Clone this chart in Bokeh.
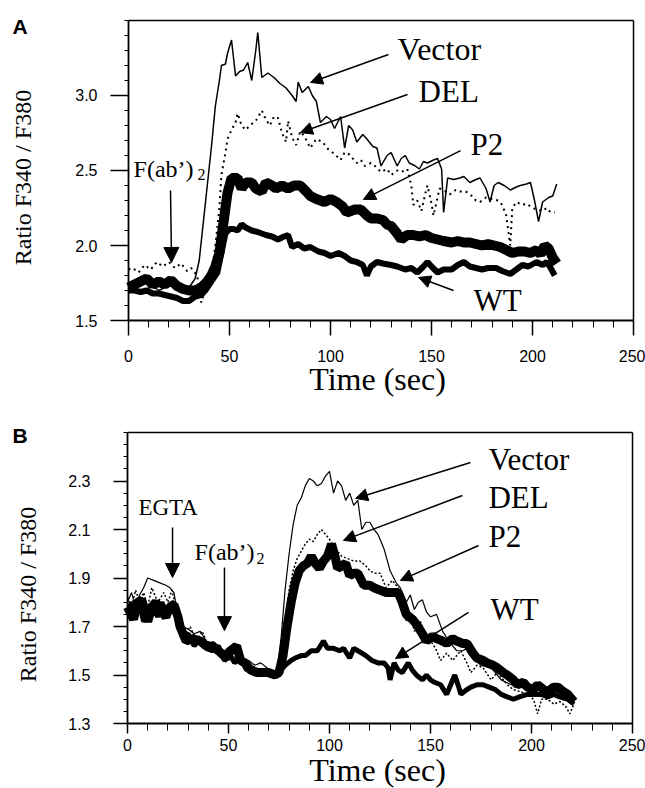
import math
from bokeh.plotting import figure
from bokeh.layouts import column
from bokeh.models import (Range1d, FixedTicker, NumeralTickFormatter, Label, Arrow, NormalHead, LinearAxis)
from bokeh.embed import file_html
from bokeh.resources import INLINE

# ---------------- Panel A data ----------------
A_VECTOR_T = [0, 3, 6, 9, 12, 15, 18, 21, 24, 27, 30, 33, 35, 37, 39, 41, 43, 45, 46, 48, 49, 51, 53, 55, 57, 59, 61, 63, 64, 66, 69, 72, 75, 78, 81, 83, 84, 86, 89, 91, 93, 95, 98, 100, 102, 105, 107, 109, 111, 113, 116, 118, 121, 123, 125, 128, 130, 133, 135, 137, 139, 142, 144, 146, 148, 151, 153, 155, 156, 158, 161, 164, 166, 169, 172, 174, 177, 179, 181, 183, 186, 189, 192, 194, 197, 199, 201, 203, 205, 208, 210, 212]
A_VECTOR_V = [1.70, 1.72, 1.68, 1.71, 1.73, 1.70, 1.72, 1.74, 1.71, 1.70, 1.72, 1.78, 1.90, 2.15, 2.40, 2.65, 2.93, 3.10, 3.20, 3.21, 3.28, 3.37, 3.13, 3.16, 3.17, 3.22, 3.10, 3.30, 3.42, 3.12, 3.15, 3.12, 3.08, 3.05, 3.00, 2.96, 3.09, 3.02, 3.06, 3.00, 2.96, 2.82, 2.86, 2.84, 2.78, 2.86, 2.65, 2.80, 2.77, 2.69, 2.74, 2.71, 2.66, 2.65, 2.53, 2.60, 2.62, 2.53, 2.58, 2.60, 2.55, 2.53, 2.51, 2.56, 2.55, 2.57, 2.58, 2.51, 2.22, 2.45, 2.44, 2.45, 2.46, 2.42, 2.44, 2.45, 2.38, 2.29, 2.40, 2.42, 2.40, 2.37, 2.39, 2.40, 2.41, 2.42, 2.30, 2.16, 2.29, 2.32, 2.33, 2.41]

A_DEL_T = [0, 2, 5, 8, 11, 14, 17, 20, 23, 26, 29, 31, 34, 36, 38, 40, 42, 43, 45, 46, 48, 49, 51, 53, 54, 56, 58, 60, 63, 66, 68, 70, 72, 74, 76, 78, 79, 81, 83, 85, 87, 90, 93, 96, 99, 102, 105, 107, 109, 111, 113, 115, 117, 120, 122, 125, 128, 130, 133, 135, 138, 140, 141, 143, 145, 147, 148, 150, 151, 153, 154, 157, 159, 162, 164, 167, 170, 172, 174, 177, 180, 183, 185, 187, 189, 190, 192, 195, 197, 200, 202, 205, 207, 209, 211]
A_DEL_V = [1.84, 1.85, 1.82, 1.87, 1.84, 1.89, 1.86, 1.89, 1.85, 1.88, 1.83, 1.85, 1.80, 1.62, 1.70, 1.79, 1.90, 2.00, 2.25, 2.47, 2.62, 2.71, 2.77, 2.82, 2.88, 2.80, 2.77, 2.80, 2.83, 2.90, 2.84, 2.80, 2.86, 2.85, 2.75, 2.69, 2.83, 2.72, 2.67, 2.76, 2.73, 2.65, 2.71, 2.69, 2.64, 2.61, 2.57, 2.62, 2.61, 2.58, 2.55, 2.57, 2.53, 2.55, 2.53, 2.49, 2.51, 2.47, 2.50, 2.49, 2.51, 2.40, 2.27, 2.30, 2.23, 2.35, 2.40, 2.28, 2.20, 2.32, 2.38, 2.36, 2.34, 2.37, 2.36, 2.36, 2.33, 2.30, 2.29, 2.32, 2.31, 2.30, 2.27, 2.20, 2.00, 2.25, 2.29, 2.27, 2.28, 2.25, 2.24, 2.23, 2.25, 2.22, 2.22]

A_P2_T = [0, 3, 6, 9, 12, 15, 18, 21, 24, 27, 30, 33, 36, 39, 41, 43, 45, 47, 49, 51, 54, 56, 58, 61, 63, 66, 68, 71, 73, 76, 79, 82, 85, 88, 90, 93, 97, 100, 103, 106, 108, 112, 115, 118, 120, 123, 126, 128, 130, 133, 135, 138, 141, 144, 147, 150, 153, 156, 160, 163, 166, 169, 172, 175, 178, 181, 184, 187, 190, 193, 196, 199, 202, 204, 206, 208, 210, 212]
A_P2_V = [1.72, 1.74, 1.76, 1.78, 1.74, 1.76, 1.74, 1.77, 1.73, 1.71, 1.70, 1.70, 1.72, 1.76, 1.80, 1.86, 1.95, 2.15, 2.35, 2.45, 2.45, 2.38, 2.42, 2.42, 2.38, 2.36, 2.42, 2.40, 2.38, 2.40, 2.38, 2.40, 2.40, 2.36, 2.33, 2.31, 2.29, 2.31, 2.29, 2.26, 2.22, 2.24, 2.24, 2.20, 2.18, 2.18, 2.17, 2.14, 2.13, 2.08, 2.04, 2.07, 2.07, 2.06, 2.07, 2.05, 2.04, 2.03, 2.02, 2.03, 2.02, 2.02, 2.01, 2.00, 2.01, 2.00, 1.99, 1.97, 1.95, 1.96, 1.96, 1.95, 1.97, 1.94, 2.00, 1.98, 1.92, 1.88]

A_WT_T = [0, 3, 6, 9, 12, 15, 18, 21, 24, 27, 30, 33, 36, 38, 40, 42, 44, 46, 48, 50, 52, 54, 56, 58, 61, 64, 66, 68, 71, 74, 77, 79, 81, 84, 87, 90, 94, 97, 100, 104, 107, 110, 113, 116, 118, 120, 123, 126, 130, 133, 137, 140, 143, 146, 148, 150, 153, 156, 160, 163, 166, 169, 172, 175, 178, 182, 185, 189, 192, 195, 198, 202, 205, 207, 209, 211]
A_WT_V = [1.70, 1.70, 1.69, 1.70, 1.68, 1.68, 1.67, 1.66, 1.65, 1.63, 1.63, 1.66, 1.67, 1.70, 1.74, 1.78, 1.82, 1.95, 2.08, 2.11, 2.11, 2.10, 2.14, 2.12, 2.10, 2.09, 2.08, 2.07, 2.06, 2.04, 2.06, 2.07, 1.99, 2.01, 1.98, 1.99, 1.96, 1.95, 1.93, 1.95, 1.93, 1.90, 1.89, 1.87, 1.80, 1.86, 1.89, 1.88, 1.87, 1.86, 1.84, 1.85, 1.82, 1.86, 1.89, 1.86, 1.82, 1.84, 1.84, 1.87, 1.89, 1.86, 1.85, 1.84, 1.85, 1.85, 1.83, 1.81, 1.84, 1.87, 1.86, 1.89, 1.87, 1.89, 1.85, 1.80]

# ---------------- Panel B data ----------------
B_VECTOR_T = [0, 2, 4, 6, 8, 10, 13, 16, 19, 21, 23, 25, 27, 30, 33, 36, 39, 42, 45, 48, 51, 54, 57, 60, 63, 66, 69, 72, 74, 76, 78, 80, 82, 84, 86, 88, 90, 92, 94, 96, 98, 100, 102, 104, 106, 108, 110, 112, 114, 116, 118, 120, 122, 124, 127, 130, 133, 135, 138, 140, 142, 144, 146, 148, 150, 153, 156, 160, 163, 166, 168, 171, 175, 180, 185, 190, 195, 200, 205, 208, 212, 216, 221]
B_VECTOR_V = [1.80, 1.84, 1.78, 1.83, 1.86, 1.90, 1.89, 1.88, 1.87, 1.86, 1.84, 1.74, 1.70, 1.69, 1.67, 1.68, 1.64, 1.63, 1.61, 1.60, 1.62, 1.59, 1.57, 1.56, 1.54, 1.55, 1.53, 1.51, 1.52, 1.65, 1.85, 2.00, 2.12, 2.20, 2.23, 2.28, 2.31, 2.30, 2.28, 2.29, 2.32, 2.34, 2.25, 2.30, 2.28, 2.22, 2.25, 2.20, 2.22, 2.10, 2.13, 2.13, 2.10, 2.08, 2.02, 1.93, 1.88, 1.86, 1.80, 1.83, 1.77, 1.80, 1.81, 1.76, 1.74, 1.75, 1.68, 1.63, 1.60, 1.60, 1.61, 1.57, 1.54, 1.53, 1.48, 1.46, 1.45, 1.43, 1.44, 1.45, 1.43, 1.42, 1.40]

B_DEL_T = [0, 2, 4, 6, 8, 10, 12, 15, 18, 20, 22, 24, 26, 28, 31, 34, 37, 40, 43, 46, 49, 52, 55, 58, 61, 64, 67, 70, 73, 76, 78, 80, 82, 84, 86, 88, 90, 92, 94, 96, 98, 100, 102, 104, 106, 109, 112, 115, 118, 120, 122, 125, 128, 131, 134, 136, 138, 140, 142, 145, 148, 151, 153, 155, 158, 161, 165, 168, 170, 173, 176, 180, 183, 185, 188, 191, 195, 198, 201, 203, 205, 208, 211, 214, 217, 219, 221]
B_DEL_V = [1.82, 1.78, 1.85, 1.80, 1.84, 1.78, 1.86, 1.80, 1.84, 1.80, 1.85, 1.78, 1.70, 1.66, 1.70, 1.64, 1.68, 1.62, 1.64, 1.58, 1.60, 1.58, 1.56, 1.55, 1.52, 1.53, 1.50, 1.49, 1.50, 1.58, 1.72, 1.85, 1.93, 1.98, 2.01, 2.04, 2.06, 2.05, 2.08, 2.10, 2.08, 2.06, 2.03, 2.01, 1.99, 1.98, 1.97, 1.97, 1.95, 1.93, 1.92, 1.92, 1.86, 1.89, 1.86, 1.80, 1.72, 1.75, 1.68, 1.72, 1.66, 1.63, 1.60, 1.56, 1.59, 1.56, 1.60, 1.55, 1.51, 1.54, 1.53, 1.48, 1.51, 1.49, 1.46, 1.44, 1.43, 1.42, 1.40, 1.34, 1.40, 1.40, 1.38, 1.39, 1.37, 1.34, 1.38]

B_P2_T = [0, 3, 5, 7, 10, 12, 14, 17, 19, 21, 23, 25, 26, 29, 32, 36, 39, 42, 45, 49, 51, 54, 56, 58, 61, 64, 67, 70, 73, 75, 77, 79, 81, 83, 85, 87, 89, 91, 93, 95, 97, 99, 101, 103, 104, 106, 108, 110, 112, 114, 117, 120, 122, 125, 128, 131, 134, 136, 138, 141, 143, 146, 148, 151, 153, 156, 158, 161, 163, 166, 168, 171, 173, 176, 178, 181, 183, 186, 188, 191, 193, 196, 198, 201, 203, 206, 208, 211, 213, 216, 218, 221]
B_P2_V = [1.78, 1.73, 1.80, 1.81, 1.72, 1.78, 1.80, 1.76, 1.74, 1.78, 1.79, 1.74, 1.70, 1.64, 1.65, 1.64, 1.62, 1.62, 1.60, 1.57, 1.60, 1.62, 1.56, 1.55, 1.52, 1.51, 1.51, 1.51, 1.50, 1.51, 1.58, 1.70, 1.80, 1.88, 1.93, 1.95, 1.96, 1.99, 1.96, 1.94, 1.97, 1.99, 2.04, 1.98, 1.94, 1.95, 1.96, 1.91, 1.92, 1.92, 1.87, 1.87, 1.86, 1.85, 1.84, 1.84, 1.84, 1.80, 1.75, 1.73, 1.71, 1.67, 1.64, 1.66, 1.65, 1.64, 1.63, 1.65, 1.64, 1.63, 1.63, 1.59, 1.57, 1.56, 1.55, 1.54, 1.53, 1.51, 1.50, 1.48, 1.46, 1.47, 1.45, 1.44, 1.46, 1.44, 1.43, 1.45, 1.45, 1.43, 1.42, 1.39]

B_WT_T = [0, 2, 4, 6, 8, 10, 12, 15, 17, 19, 21, 23, 25, 27, 30, 33, 36, 39, 42, 45, 48, 51, 53, 56, 59, 62, 65, 68, 71, 74, 76, 78, 81, 83, 86, 88, 91, 94, 97, 99, 102, 105, 107, 110, 112, 114, 116, 118, 121, 124, 127, 129, 130, 132, 134, 136, 139, 141, 143, 146, 148, 150, 152, 155, 158, 160, 162, 164, 165, 168, 170, 173, 176, 179, 182, 185, 188, 191, 194, 198, 201, 205, 208, 211, 214, 218, 221]
B_WT_V = [1.76, 1.80, 1.74, 1.79, 1.72, 1.76, 1.78, 1.74, 1.80, 1.76, 1.79, 1.80, 1.72, 1.66, 1.67, 1.62, 1.65, 1.61, 1.60, 1.62, 1.56, 1.58, 1.55, 1.57, 1.52, 1.53, 1.50, 1.51, 1.50, 1.50, 1.52, 1.54, 1.56, 1.57, 1.58, 1.58, 1.60, 1.60, 1.64, 1.61, 1.61, 1.60, 1.61, 1.57, 1.61, 1.60, 1.59, 1.58, 1.56, 1.55, 1.55, 1.53, 1.48, 1.55, 1.52, 1.51, 1.55, 1.52, 1.50, 1.48, 1.50, 1.48, 1.47, 1.46, 1.42, 1.46, 1.50, 1.45, 1.42, 1.44, 1.45, 1.46, 1.46, 1.45, 1.44, 1.42, 1.41, 1.40, 1.41, 1.42, 1.42, 1.42, 1.41, 1.42, 1.41, 1.40, 1.38]

X_TICKS = [0, 50, 100, 150, 200, 250]
A_Y_TICKS = [1.5, 2.0, 2.5, 3.0]
B_Y_TICKS = [1.3, 1.5, 1.7, 1.9, 2.1, 2.3]

SERIF = "Liberation Serif"
SANS = "Liberation Sans"


def make_fig(height, xr, yr, ylo, yhi, yticks, yminor_step, ytick_out, xtick_out, ylab_standoff, xlab_standoff):
    p = figure(width=645, height=height, output_backend="svg", toolbar_location=None,
               x_range=Range1d(*xr), y_range=Range1d(*yr), min_border=0,
               background_fill_color="white", border_fill_color="white")
    p.xgrid.visible = False
    p.ygrid.visible = False
    p.outline_line_color = None
    n = int(round((yhi - ylo) / yminor_step))
    xa = p.xaxis[0]
    ya = p.yaxis[0]
    xa.ticker = FixedTicker(ticks=X_TICKS, minor_ticks=list(range(0, 251, 10)))
    ya.ticker = FixedTicker(ticks=yticks, minor_ticks=[round(ylo + i * yminor_step, 3) for i in range(n + 1)])
    ya.formatter = NumeralTickFormatter(format="0.0")
    xa.fixed_location = ylo
    ya.fixed_location = 0
    xa.bounds = (0, 250)
    ya.bounds = (ylo, yhi)
    for ax in (xa, ya):
        ax.axis_line_color = "black"
        ax.axis_line_width = 1.8
        ax.major_tick_line_color = "black"
        ax.minor_tick_line_color = "black"
        ax.major_tick_line_width = 1.5
        ax.minor_tick_line_width = 1.0
        ax.major_tick_in = 0
        ax.minor_tick_in = 0
        ax.major_label_text_font = SANS
        ax.major_label_text_font_size = "16px"
        ax.major_label_text_color = "black"
    ya.major_tick_out = ytick_out
    ya.minor_tick_out = 4
    ya.major_label_standoff = ylab_standoff
    xa.major_tick_out = xtick_out
    xa.minor_tick_out = 7
    xa.major_label_standoff = xlab_standoff
    # frame border on top and right
    top = LinearAxis(fixed_location=yhi, bounds=(0, 250), ticker=FixedTicker(ticks=[]),
                     axis_line_color="black", axis_line_width=1.5,
                     major_tick_line_color=None, minor_tick_line_color=None,
                     major_label_text_color=None)
    right = LinearAxis(fixed_location=250, bounds=(ylo, yhi), ticker=FixedTicker(ticks=[]),
                       axis_line_color="black", axis_line_width=1.5,
                       major_tick_line_color=None, minor_tick_line_color=None,
                       major_label_text_color=None)
    p.add_layout(top, "above")
    p.add_layout(right, "right")
    return p


def txt(p, x, y, s, size, font=SERIF, bold=False, angle=0.0, align="left", baseline="alphabetic"):
    p.add_layout(Label(x=x, y=y, text=s, text_font=font, text_font_size=size,
                       text_font_style="bold" if bold else "normal", text_color="black",
                       angle=angle, text_align=align, text_baseline=baseline))


def arrow(p, x0, y0, x1, y1, size=12):
    p.add_layout(Arrow(end=NormalHead(size=size, fill_color="black", line_color="black", line_width=1),
                       x_start=x0, y_start=y0, x_end=x1, y_end=y1,
                       line_color="black", line_width=1.5))


# ---------------- Panel A ----------------
pa = make_fig(400, (-63.366, 255.941), (0.96667, 3.63333), 1.5, 3.5, A_Y_TICKS, 0.1, 18, 15, 13, 14)
pa.line(A_WT_T, A_WT_V, line_color="black", line_width=6)
pa.line(A_P2_T, A_P2_V, line_color="black", line_width=10)
pa.line(A_DEL_T, A_DEL_V, line_color="black", line_width=2, line_dash="2 4")
pa.line(A_VECTOR_T, A_VECTOR_V, line_color="black", line_width=1.5)

txt(pa, 123.3, 1.110, "Time (sec)", "32px", align="center")
txt(pa, -52, 2.453, "Ratio F340 / F380", "24px", angle=math.pi / 2, align="center", baseline="middle")
txt(pa, -57.4, 3.463, "A", "21px", font=SANS, bold=True)

txt(pa, 133.2, 3.310, "Vector", "32px")
txt(pa, 143.6, 3.026, "DEL", "31px")
txt(pa, 169.3, 2.673, "P2", "31px")
txt(pa, 170.8, 1.633, "WT", "31px")
txt(pa, 2.5, 2.512, "F(ab’)", "24px")
txt(pa, 34.2, 2.472, "2", "16px")

arrow(pa, 128.7, 3.273, 90.1, 3.087)
arrow(pa, 138.1, 3.007, 85.1, 2.753)
arrow(pa, 164.4, 2.633, 116.3, 2.307)
arrow(pa, 160.9, 1.700, 143.6, 1.787)
arrow(pa, 20.8, 2.367, 21.3, 1.887, size=15)

# ---------------- Panel B ----------------
pb = make_fig(388, (-62.871, 256.436), (1.03196, 2.63196), 1.3, 2.5, B_Y_TICKS, 0.05, 14, 10, 23, 5)
pb.line(B_WT_T, B_WT_V, line_color="black", line_width=5)
pb.line(B_P2_T, B_P2_V, line_color="black", line_width=9)
pb.line(B_DEL_T, B_DEL_V, line_color="black", line_width=1.5, line_dash="2 2")
pb.line(B_VECTOR_T, B_VECTOR_V, line_color="black", line_width=1.2)

txt(pb, 123.8, 1.108, "Time (sec)", "32px", align="center")
txt(pb, -49.5, 1.832, "Ratio F340 / F380", "24px", angle=math.pi / 2, align="center", baseline="middle")
txt(pb, -56.9, 2.486, "B", "21px", font=SANS, bold=True)

txt(pb, 178.7, 2.388, "Vector", "31px")
txt(pb, 178.7, 2.232, "DEL", "31px")
txt(pb, 178.7, 2.071, "P2", "31px")
txt(pb, 179.7, 1.770, "WT", "31px")
txt(pb, 5.4, 2.192, "EGTA", "23px")
txt(pb, 33.2, 2.007, "F(ab’)", "24px")
txt(pb, 63.9, 1.980, "2", "16px")

arrow(pb, 169.8, 2.376, 112.9, 2.228)
arrow(pb, 165.8, 2.240, 106.9, 2.055)
arrow(pb, 173.8, 2.034, 135.1, 1.890)
arrow(pb, 168.8, 1.758, 132.7, 1.568)
arrow(pb, 22.3, 2.108, 22.3, 1.902, size=14)
arrow(pb, 48.0, 1.943, 48.0, 1.683, size=14)

layout = column(pa, pb, spacing=0)
open("out.html", "w").write(file_html(layout, INLINE))
